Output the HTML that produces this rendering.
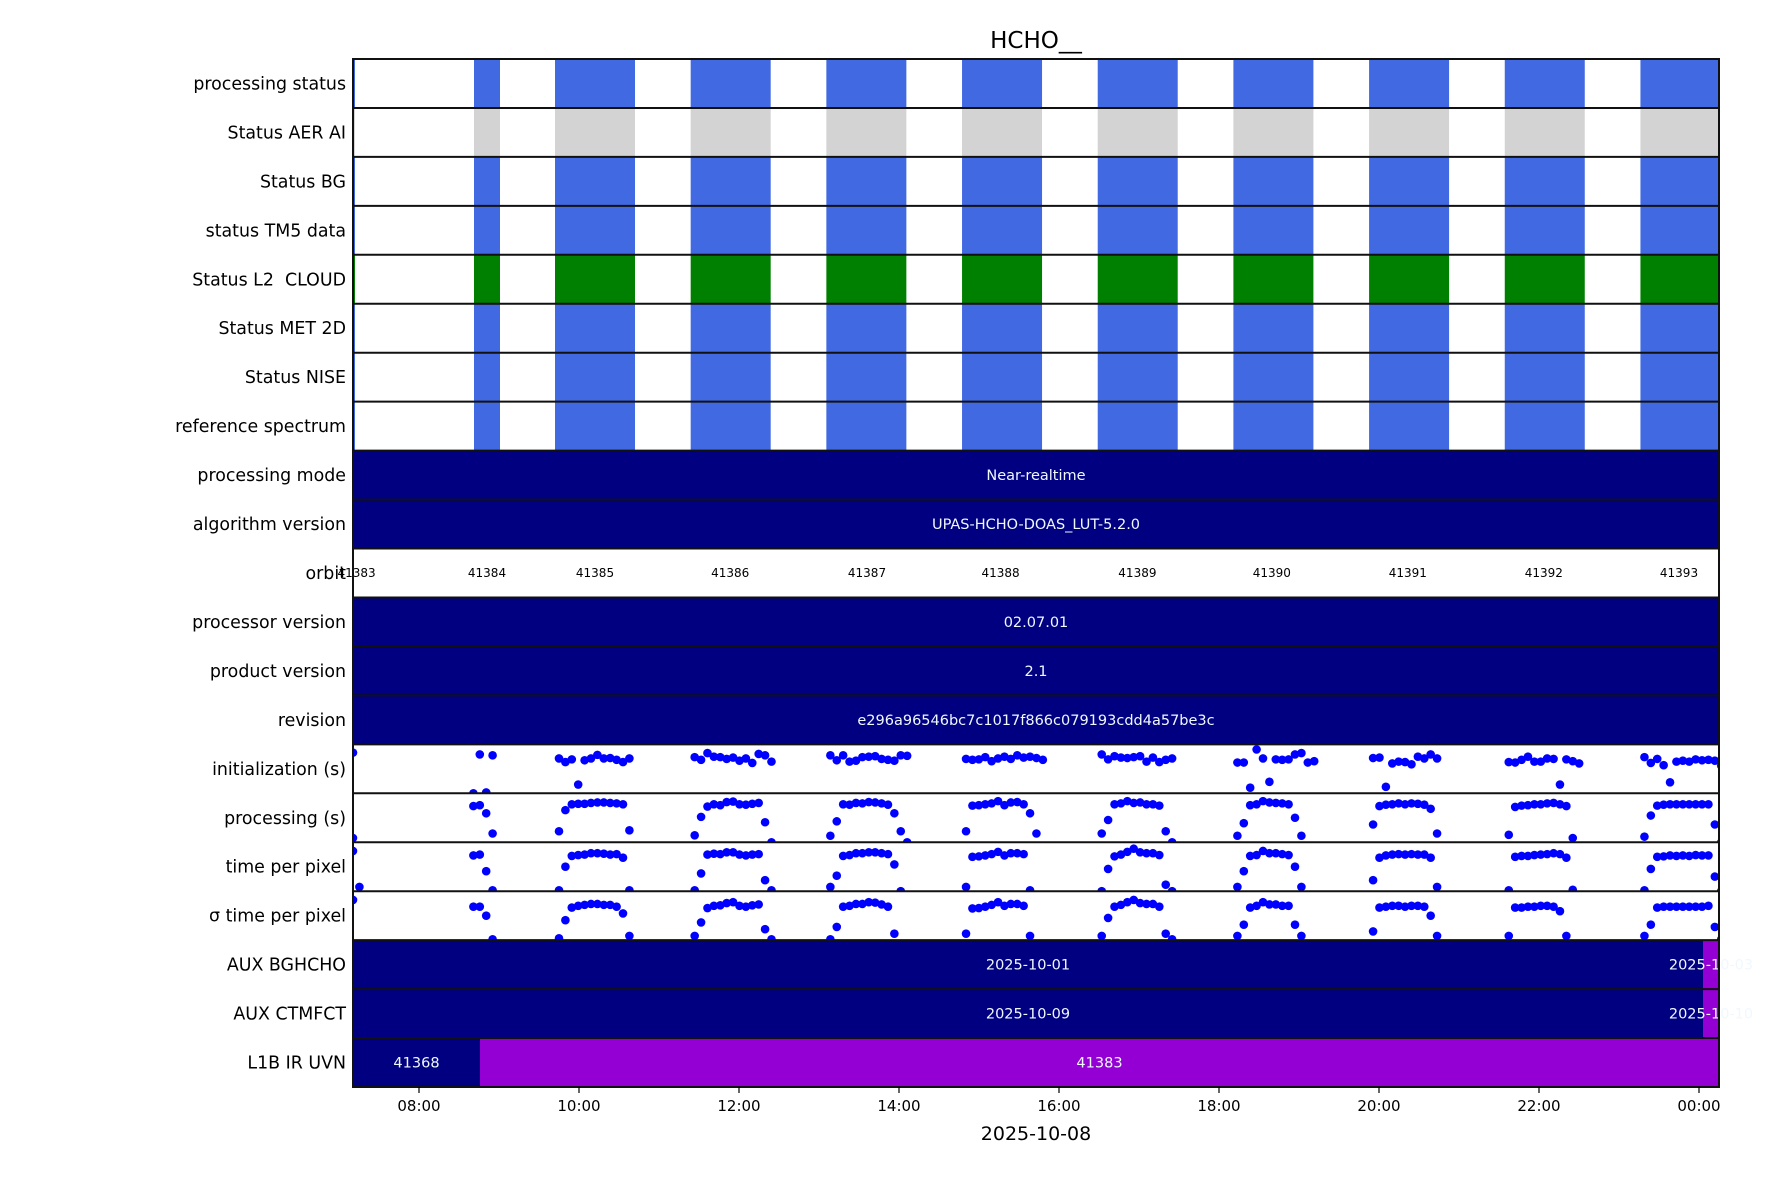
<!DOCTYPE html>
<html><head><meta charset="utf-8"><style>
html,body{margin:0;padding:0;background:#fff;}
svg{display:block;font-family:"DejaVu Sans","Liberation Sans",sans-serif;}
text{white-space:pre;}
</style></head><body>
<svg id="chart" width="1771" height="1181" viewBox="0 0 1771 1181" xmlns="http://www.w3.org/2000/svg">
<text x="1036" y="48" text-anchor="middle" font-size="23">HCHO__</text>
<text x="1036" y="1140" text-anchor="middle" font-size="19">2025-10-08</text>
<g id="rows"></g><g id="axis"></g>
</svg>
<script>
const rowLabels = ["processing status","Status AER AI","Status BG","status TM5 data","Status L2  CLOUD","Status MET 2D","Status NISE","reference spectrum","processing mode","algorithm version","orbit","processor version","product version","revision","initialization (s)","processing (s)","time per pixel","\u03C3 time per pixel","AUX BGHCHO","AUX CTMFCT","L1B IR UVN"];
const statusRowColors = ["#4169e1","#d3d3d3","#4169e1","#4169e1","#008000","#4169e1","#4169e1","#4169e1"];
const statusBlockStarts = [7.175, 8.6875, 9.70, 11.396, 13.092, 14.788, 16.484, 18.18, 19.876, 21.572, 23.268];
const statusBlockEnds = [7.2, 9.0125, 10.70, 12.396, 14.092, 15.788, 17.484, 19.18, 20.876, 22.572, 24.268];
const textRows = {8:"Near-realtime",9:"UPAS-HCHO-DOAS_LUT-5.2.0",11:"02.07.01",12:"2.1",13:"e296a96546bc7c1017f866c079193cdd4a57be3c"};
const orbitNumbers = [41383,41384,41385,41386,41387,41388,41389,41390,41391,41392,41393];
const orbitLabelHours = [7.22,8.85,10.20,11.89,13.60,15.27,16.98,18.66,20.36,22.06,23.75];
const auxBgSegments = [[7.175,24.05,"2025-10-01"],[24.05,24.5,"2025-10-03"]];
const auxCtmSegments = [[7.175,24.05,"2025-10-09"],[24.05,24.5,"2025-10-10"]];
const l1bSegments = [[7.175,8.7625,"41368"],[8.7625,24.5,"41383"]];
const xTickHours = [8,10,12,14,16,18,20,22,24];
const xTickLabels = ["08:00","10:00","12:00","14:00","16:00","18:00","20:00","22:00","00:00"];
const scatterStarts = [7.175, 8.68, 9.75, 11.446, 13.142, 14.838, 16.534, 18.23, 19.926, 21.622, 23.318];
const scatterStep = 0.08;
const initValues = [
 [0.86],
 [0.0,0.82,0.02,0.8],
 [0.73,0.65,0.71,0.15,0.69,0.73,0.81,0.73,0.74,0.7,0.65,0.73],
 [0.76,0.7,0.85,0.77,0.76,0.72,0.75,0.68,0.73,0.63,0.83,0.8,0.66],
 [0.8,0.69,0.8,0.66,0.68,0.76,0.77,0.78,0.72,0.7,0.68,0.8,0.79],
 [0.72,0.7,0.71,0.76,0.67,0.73,0.77,0.72,0.8,0.75,0.77,0.74,0.7],
 [0.82,0.71,0.78,0.75,0.74,0.76,0.78,0.66,0.75,0.65,0.7,0.73],
 [0.64,0.64,0.08,0.93,0.73,0.21,0.71,0.7,0.71,0.82,0.85,0.64,0.67],
 [0.74,0.75,0.1,0.62,0.66,0.65,0.6,0.77,0.73,0.82,0.73],
 [0.65,0.64,0.7,0.77,0.66,0.66,0.73,0.72,0.15,0.71,0.67,0.62],
 [0.76,0.63,0.72,0.58,0.2,0.66,0.68,0.66,0.71,0.69,0.7,0.68,0.57,0.77]
];
const procValues = [
 [0.05],
 [0.76,0.78,0.6,0.15],
 [0.2,0.67,0.8,0.81,0.81,0.83,0.84,0.84,0.83,0.82,0.8,0.22],
 [0.11,0.52,0.75,0.8,0.78,0.85,0.86,0.8,0.79,0.81,0.83,0.4,0.0],
 [0.1,0.42,0.8,0.79,0.83,0.82,0.85,0.84,0.82,0.79,0.6,0.2,0.0],
 [0.2,0.77,0.78,0.8,0.82,0.87,0.78,0.84,0.85,0.8,0.6,0.15],
 [0.15,0.45,0.8,0.82,0.87,0.83,0.84,0.8,0.8,0.77,0.2,0.0],
 [0.1,0.38,0.78,0.8,0.87,0.84,0.83,0.82,0.8,0.5,0.1],
 [0.35,0.76,0.79,0.8,0.82,0.8,0.82,0.81,0.79,0.7,0.15],
 [0.12,0.74,0.77,0.78,0.8,0.8,0.82,0.83,0.8,0.76,0.05],
 [0.08,0.55,0.77,0.79,0.8,0.8,0.8,0.8,0.8,0.8,0.8,0.35,0.0]
];
const tppValues = [
 [0.85,0.05],
 [0.75,0.77,0.4,0.02],
 [0.02,0.5,0.74,0.76,0.77,0.8,0.8,0.79,0.77,0.78,0.7,0.02],
 [0.02,0.35,0.77,0.79,0.78,0.82,0.82,0.77,0.75,0.77,0.78,0.2,0.02],
 [0.05,0.3,0.74,0.76,0.8,0.8,0.82,0.82,0.8,0.78,0.55,0.0],
 [0.05,0.72,0.73,0.75,0.78,0.83,0.75,0.8,0.8,0.78,0.02],
 [0.0,0.45,0.73,0.77,0.83,0.9,0.82,0.8,0.8,0.76,0.1,0.0],
 [0.05,0.4,0.74,0.76,0.85,0.8,0.8,0.78,0.76,0.5,0.05],
 [0.2,0.7,0.75,0.77,0.78,0.77,0.78,0.77,0.77,0.7,0.05],
 [0.02,0.72,0.74,0.74,0.76,0.77,0.78,0.8,0.78,0.7,0.03],
 [0.02,0.45,0.72,0.73,0.75,0.74,0.75,0.74,0.76,0.75,0.75,0.28,0.0]
];
const sigmaValues = [
 [0.85],
 [0.7,0.7,0.5,0.02],
 [0.04,0.4,0.68,0.72,0.74,0.76,0.76,0.74,0.74,0.7,0.55,0.05],
 [0.05,0.35,0.67,0.72,0.73,0.78,0.8,0.72,0.7,0.73,0.75,0.2,0.02],
 [0.02,0.25,0.7,0.72,0.76,0.76,0.8,0.79,0.75,0.7,0.1],
 [0.1,0.66,0.67,0.7,0.74,0.8,0.72,0.76,0.76,0.72,0.05],
 [0.05,0.45,0.7,0.74,0.8,0.85,0.78,0.76,0.76,0.7,0.1,0.02],
 [0.05,0.3,0.68,0.72,0.8,0.75,0.75,0.72,0.72,0.3,0.05],
 [0.15,0.68,0.7,0.72,0.72,0.7,0.72,0.72,0.7,0.5,0.05],
 [0.05,0.68,0.68,0.7,0.7,0.72,0.72,0.7,0.6,0.05],
 [0.05,0.3,0.68,0.7,0.7,0.7,0.7,0.7,0.7,0.7,0.72,0.25,0.02]
];

const NS = "http://www.w3.org/2000/svg";
const L = 353, R = 1719, T = 59, B = 1087;
const rowH = (B - T) / rowLabels.length;
function xScale(h){ return 419 + (h - 8) * 80; }
function rowTop(i){ return T + i * rowH; }
function yScale(i, v){ return rowTop(i) + 2 + (1 - v) * (rowH - 4) + (v < 0.05 ? 2 : 0); }
function mk(tag, attrs, parent){ const e = document.createElementNS(NS, tag); for (const k in attrs) e.setAttribute(k, attrs[k]); parent.appendChild(e); return e; }
const rows = document.getElementById('rows');
const defs = mk('defs', {}, rows);
rowLabels.forEach((lab, i) => {
  const cp = mk('clipPath', {id: 'clip' + i}, defs);
  mk('rect', {x: L, y: rowTop(i), width: R - L, height: rowH}, cp);
});
function segRect(i, h0, h1, color, g){
  const x0 = Math.max(L, xScale(h0)), x1 = Math.min(R, xScale(h1));
  return mk('rect', {x: x0, y: rowTop(i), width: Math.max(0, x1 - x0), height: rowH, fill: color}, g);
}
function barText(i, xc, txt, g){
  const t = mk('text', {x: xc, y: rowTop(i) + rowH / 2 + 5, 'text-anchor': 'middle', 'font-size': 14.5, fill: '#f0f8ff'}, g);
  t.textContent = txt; return t;
}
rowLabels.forEach((lab, i) => {
  const g = mk('g', {}, rows);
  
  
  const lt = mk('text', {x: 346, y: rowTop(i) + rowH / 2 + 6, 'text-anchor': 'end', 'font-size': 17.4, fill: '#000'}, g);
  lt.textContent = lab;
  
  
  const inner = mk('g', {'clip-path': 'url(#clip' + i + ')'}, g);
  mk('rect', {x: L, y: rowTop(i), width: R - L, height: rowH, fill: '#fff'}, inner);
  if (i < 8) {
    statusBlockStarts.forEach((s, k) => {
      const r = segRect(i, s, statusBlockEnds[k], statusRowColors[i], inner);
      
      
    });
  } else if (textRows[i] !== undefined) {
    const r = segRect(i, 7, 25, '#000080', inner);
    
    
    barText(i, (L + R) / 2, textRows[i], g);
  } else if (i === 10) {
    orbitNumbers.forEach((n, k) => {
      const t = mk('text', {x: xScale(orbitLabelHours[k]), y: rowTop(i) + rowH / 2 + 4, 'text-anchor': 'middle', 'font-size': 12, fill: '#000'}, g);
      t.textContent = n;
      
      
    });
  } else if (i >= 14 && i <= 17) {
    const vals = [initValues, procValues, tppValues, sigmaValues][i - 14];
    vals.forEach((arr, k) => {
      arr.forEach((v, j) => {
        const c = mk('circle', {cx: xScale(scatterStarts[k] + j * scatterStep), cy: yScale(i, v), r: 4.3, fill: '#0000ff'}, inner);
        
        
      });
    });
  } else {
    const segs = i === 18 ? auxBgSegments : i === 19 ? auxCtmSegments : l1bSegments;
    segs.forEach((s, k) => {
      const r = segRect(i, s[0], s[1], k === 0 ? '#000080' : '#9400d3', inner);
      
      
    });
    segs.forEach((s) => {
      const x0 = Math.max(L, xScale(s[0])), x1 = Math.min(R, xScale(s[1]));
      const xc = (x1 - x0) < 40 ? (x0 + x1) / 2 : (x0 + x1) / 2;
      barText(i, xc, s[2], g);
    });
  }
  mk('line', {x1: L, x2: R, y1: rowTop(i), y2: rowTop(i), stroke: '#111', 'stroke-width': 2}, g);
});
const axis = document.getElementById('axis');
mk('rect', {x: L, y: T, width: R - L, height: B - T, fill: 'none', stroke: '#111', 'stroke-width': 2}, axis);
xTickHours.forEach((h, k) => {
  const x = xScale(h);
  const tk = mk('line', {x1: x, x2: x, y1: B, y2: B + 6, stroke: '#000', 'stroke-width': 1.2}, axis);
  
  
  const t = mk('text', {x: x, y: B + 24, 'text-anchor': 'middle', 'font-size': 15, fill: '#000'}, axis);
  t.textContent = xTickLabels[k];
  
  
});
</script>
</body></html>
